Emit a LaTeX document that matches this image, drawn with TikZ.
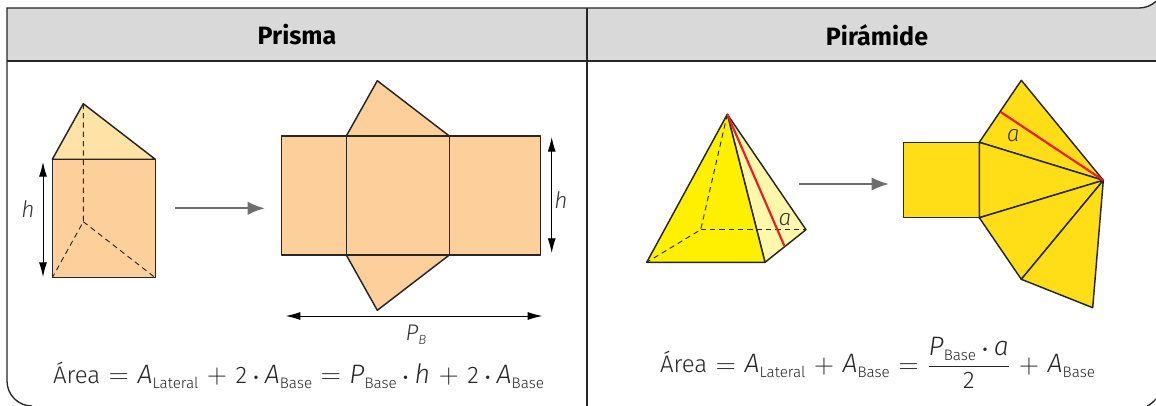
\documentclass[tikz,border=0pt]{standalone}
\usepackage{amsmath}
\usepackage{fontspec}
\usepackage{xcolor}
\usepackage{tikz}
\usetikzlibrary{arrows.meta}
\setmainfont{Fira Sans}[UprightFont={* Light},ItalicFont={* Light Italic},BoldFont={* Bold}]
\definecolor{headgrey}{RGB}{217,217,217}
\definecolor{prismface}{RGB}{253,207,155}
\definecolor{prismtop}{RGB}{254,226,166}
\definecolor{pyrfront}{RGB}{255,240,0}
\definecolor{pyrside}{RGB}{255,247,170}
\definecolor{pyrnet}{RGB}{255,221,23}
\definecolor{arrgrey}{RGB}{109,110,112}
\definecolor{apothem}{RGB}{237,28,36}
\newcommand{\lowtxt}[1]{\raisebox{-0.4ex}{\fontsize{11.4}{12}\selectfont #1}}
\newcommand{\bigit}[1]{{\fontsize{20}{22}\selectfont\itshape #1}}
\newcommand{\Alat}{\bigit{A}\lowtxt{Lateral}}
\newcommand{\Abase}{\bigit{A}\lowtxt{Base}}
\newcommand{\Pbase}{\bigit{P}\lowtxt{Base}}
\newcommand{\opsym}[1]{\hspace{6.5pt}\raisebox{-0.6pt}{\fontsize{20.74}{22}\selectfont$#1$}\hspace{6.5pt}}
\newcommand{\eqs}{\opsym{=}}
\newcommand{\pls}{\opsym{+}}
\newcommand{\pdot}{\hspace{5pt}{\fontsize{14}{14}\selectfont\bfseries ·}\hspace{5pt}}
\tikzset{
  face/.style  ={draw=black!85, line width=1.1pt, line join=round},
  hidden/.style={draw=black!85, line width=0.7pt, dash pattern=on 4pt off 3pt},
  dim/.style   ={{Latex[length=11pt,width=6pt]}-{Latex[length=11pt,width=6pt]}, draw=black, line width=0.7pt},
  go/.style    ={-{Latex[length=13pt,width=10pt]}, draw=arrgrey, line width=1.7pt},
  rule/.style  ={draw=black!85, line width=1pt},
  lbl/.style   ={font=\fontsize{17}{20}\selectfont\itshape, text=black!80, inner sep=0pt},
  title/.style ={font=\fontsize{18.8}{21}\selectfont\bfseries, text=black, inner sep=0pt},
  formula/.style={font=\fontsize{18}{22}\selectfont, text=black!85, inner sep=0pt},
}
\begin{document}
\begin{tikzpicture}[x=0.75pt,y=-0.75pt]
\useasboundingbox (0,0) rectangle (1156,406);

% frame
\fill[headgrey] (7,61) -- (7,8) -- (1139,8) arc[start angle=90,end angle=47,radius=25] -- (1156,61) -- cycle;
\draw[rule] (32,406) arc[start angle=90,end angle=180,radius=25] -- (7,8) -- (1139,8)
   arc[start angle=90,end angle=47,radius=25];
\draw[rule] (7,61) -- (1156,61);
\draw[rule] (587,8) -- (587,406);
\draw[rule] (1147,406) .. controls (1150,405) and (1153,402) .. (1156,399);
\node[title] (prismahead) at (297,35) {Prisma};
\node[title] (piramidehead) at (877,35) {Pirámide};

% prism
\coordinate (ptop) at (83.3,103.7);
\coordinate (pback) at (83.3,221.7);
\coordinate (ptl) at (52.3,159.3);
\coordinate (ptr) at (155.3,159.3);
\coordinate (pbl) at (52.3,277.7);
\coordinate (pbr) at (155.3,277.7);
\draw[face,fill=prismtop] (ptl) -- (ptop) -- (ptr) -- cycle;
\draw[face,fill=prismface] (ptl) rectangle (pbr);
\draw[hidden] (ptop) -- (pback) -- (pbl);
\draw[hidden] (pback) -- (pbr);
\coordinate (phu) at (43,162);
\coordinate (phd) at (43,277);
\draw[dim] (phu) -- (phd);
\node[lbl] (ph) at (28,209) {h};
\coordinate (pgo) at (175,208.3);
\coordinate (pgoend) at (265,208.3);
\draw[go] (pgo) -- (pgoend);

% prism net
\coordinate (na) at (281.7,136);
\coordinate (nb) at (346.3,136);
\coordinate (nc) at (449.3,136);
\coordinate (nd) at (540.3,136);
\coordinate (ne) at (281.7,255);
\coordinate (nf) at (346.3,255);
\coordinate (ng) at (449.3,255);
\coordinate (nh) at (540.3,255);
\coordinate (nup) at (377.3,80.7);
\coordinate (ndown) at (377.3,310.3);
\draw[face,fill=prismface] (nb) -- (nup) -- (nc) -- cycle;
\draw[face,fill=prismface] (nf) -- (ndown) -- (ng) -- cycle;
\draw[face,fill=prismface] (na) rectangle (nf);
\draw[face,fill=prismface] (nb) rectangle (ng);
\draw[face,fill=prismface] (nc) rectangle (nh);
\coordinate (nhu) at (551.7,137);
\coordinate (nhd) at (551.7,253);
\draw[dim] (nhu) -- (nhd);
\node[lbl] (nhlabel) at (561,200) {h};
\coordinate (nwl) at (285.7,316);
\coordinate (nwr) at (542.3,316);
\draw[dim] (nwl) -- (nwr);
\node[lbl] (pblabel) at (416,335) {P\raisebox{-0.35ex}{\fontsize{10}{10}\selectfont B}};
\node[formula] (prismaform) at (298.5,375) {Área\eqs\Alat\pls 2\pdot\Abase\eqs\Pbase\pdot\bigit{h}\pls 2\pdot\Abase};

% pyramid
\coordinate (qtop) at (727.3,114.3);
\coordinate (qbl) at (646.7,262.3);
\coordinate (qbr) at (765,262.3);
\coordinate (qr) at (806,229.7);
\coordinate (qback) at (700.7,229.7);
\coordinate (qfoot) at (784.3,245.7);
\draw[face,fill=pyrside] (qtop) -- (qr) -- (qbr) -- cycle;
\draw[face,fill=pyrfront] (qtop) -- (qbl) -- (qbr) -- cycle;
\draw[hidden] (qtop) -- (qback) -- (qbl);
\draw[hidden] (qback) -- (qr);
\draw[apothem,line width=1.6pt] (qtop) -- (qfoot);
\node[lbl] (qa) at (785,220) {a};
\coordinate (qgo) at (799.3,184);
\coordinate (qgoend) at (889,184);
\draw[go] (qgo) -- (qgoend);

% pyramid net
\coordinate (sa) at (903.7,142.3);
\coordinate (sb) at (979.3,142.3);
\coordinate (sc) at (979.3,217.7);
\coordinate (hub) at (1103.3,180.3);
\coordinate (tup) at (1021.3,80.3);
\coordinate (tdown) at (1021.3,279.3);
\coordinate (ttip) at (1092.7,307.7);
\coordinate (rfoot) at (1000.7,112);
\draw[face,fill=pyrnet] (sa) rectangle (sc);
\foreach \p/\q in {sb/tup,sc/sb,tdown/sc,ttip/tdown}
  \draw[face,fill=pyrnet] (\p) -- (\q) -- (hub) -- cycle;
\draw[apothem,line width=1.6pt] (rfoot) -- (hub);
\node[lbl] (na2) at (1013.3,135.7) {a};
\node[formula] (piramideform) at (877.5,363) {Área\eqs\Alat\pls\Abase\eqs
  $\genfrac{}{}{1.3pt}{0}{\mbox{\Pbase\pdot\bigit{a}}}{\mbox{2}}$\pls\Abase};
\end{tikzpicture}
\end{document}
